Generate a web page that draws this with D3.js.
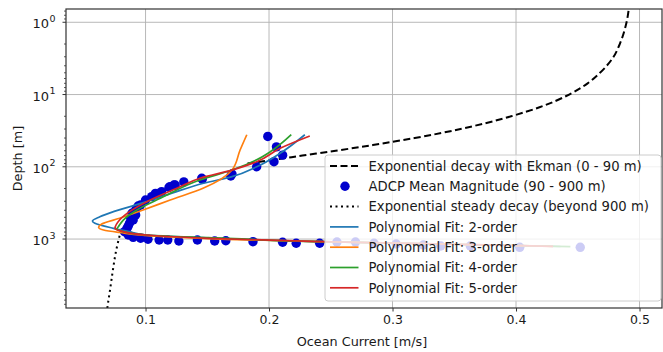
<!DOCTYPE html>
<html>
<head>
<meta charset="utf-8">
<script src="https://cdn.jsdelivr.net/npm/d3@7"></script>
<style>
  body { margin: 0; background: #fff; }
  svg { font-family: "DejaVu Sans", sans-serif; }
</style>
</head>
<body>
<script>
// Exponential decay with Ekman (0 - 90 m)
const ekmanDepth = [0.5, 1, 2, 3, 5, 7, 10, 15, 20, 25, 30, 40, 50, 60, 70, 80, 90]
const ekmanSpeed = [0.492, 0.4895, 0.484, 0.479, 0.468, 0.458, 0.443, 0.419, 0.396, 0.375, 0.355, 0.318, 0.284, 0.254, 0.227, 0.204, 0.182]

// ADCP mean magnitude
const adcpDepth = [38, 53, 69, 85, 100, 126, 134, 144, 148, 162, 179, 179, 189, 192, 221, 233, 238, 259, 288, 338, 349, 396, 440, 465, 516, 545, 605, 660, 710, 791, 879, 946, 976, 1008, 1031, 1031, 1064, 1031, 1064, 1054, 1088, 1109, 1145, 1145, 1099, 1099, 1145, 1171, 1209, 1248, 1248, 1301, 1301]
const adcpSpeed = [0.199, 0.206, 0.211, 0.204, 0.190, 0.170, 0.169, 0.1455, 0.146, 0.131, 0.123, 0.124, 0.120, 0.119, 0.113, 0.108, 0.110, 0.105, 0.100, 0.096, 0.094, 0.092, 0.089, 0.092, 0.088, 0.090, 0.087, 0.086, 0.085, 0.083, 0.086, 0.090, 0.096, 0.102, 0.111, 0.118, 0.127, 0.142, 0.156, 0.165, 0.187, 0.211, 0.222, 0.241, 0.255, 0.270, 0.285, 0.303, 0.325, 0.339, 0.363, 0.403, 0.452]

// Exponential steady decay (beyond 900 m)
const steadyDepth = [900, 1500, 2400, 5000, 8200, 9500]
const steadySpeed = [0.079, 0.076, 0.074, 0.0713, 0.0694, 0.0689]

// polynomial fits
const fit2Depth = [36, 65, 100, 137, 169, 230, 304, 418, 491, 562, 605, 710, 791, 879, 946, 1031, 1088, 1268]
const fit2Speed = [0.229, 0.209, 0.190, 0.170, 0.147, 0.122, 0.101, 0.074, 0.063, 0.057, 0.059, 0.074, 0.087, 0.101, 0.139, 0.193, 0.241, 0.436]
const fit3Depth = [36, 59, 111, 197, 288, 396, 516, 619, 686, 750, 811, 922, 1008, 1088, 1260]
const fit3Speed = [0.182, 0.1765, 0.170, 0.147, 0.120, 0.098, 0.079, 0.0645, 0.062, 0.066, 0.079, 0.112, 0.166, 0.241, 0.430]
const fit4Depth = [36, 62, 80, 111, 152, 273, 396, 546, 675, 726, 791, 879, 958, 1088, 1276]
const fit4Speed = [0.218, 0.201, 0.190, 0.170, 0.144, 0.112, 0.093, 0.082, 0.078, 0.0767, 0.082, 0.101, 0.151, 0.241, 0.444]
const fit5Depth = [37.5, 55.5, 85, 111, 144, 189, 304, 418, 546, 710, 791, 879, 977, 1088, 1260]
const fit5Speed = [0.233, 0.209, 0.190, 0.170, 0.144, 0.128, 0.101, 0.087, 0.079, 0.0753, 0.082, 0.101, 0.151, 0.241, 0.430]

const xTicks = [0.1, 0.2, 0.3, 0.4, 0.5]
const yTicks = [1, 10, 100, 1000]
const yTickExp = ['0', '1', '2', '3']
const legendLabels = [
  'Exponential decay with Ekman (0 - 90 m)',
  'ADCP Mean Magnitude (90 - 900 m)',
  'Exponential steady decay (beyond 900 m)',
  'Polynomial Fit: 2-order',
  'Polynomial Fit: 3-order',
  'Polynomial Fit: 4-order',
  'Polynomial Fit: 5-order'
]

const W = 663, H = 352
const plot = {left: 66, right: 662, top: 9, bottom: 308}
const ink = '#1a1a1a'

const svg = d3.select('body').append('svg')
  .attr('width', W)
  .attr('height', H)

const x = d3.scaleLinear().domain([0.0356, 0.5182]).range([plot.left, plot.right])
const y = d3.scaleLog().domain([0.655, 9000]).range([plot.top, plot.bottom])

svg.append('clipPath').attr('id', 'clip')
  .append('rect')
  .attr('x', plot.left).attr('y', plot.top)
  .attr('width', plot.right - plot.left).attr('height', plot.bottom - plot.top)

// grid
const grid = svg.append('g')
grid.selectAll('.vg').data(xTicks).join('line')
  .attr('x1', d => x(d)).attr('x2', d => x(d))
  .attr('y1', plot.top).attr('y2', plot.bottom)
  .attr('stroke', '#b0b0b0').attr('stroke-width', 0.9)
grid.selectAll('.hg').data(yTicks).join('line')
  .attr('x1', plot.left).attr('x2', plot.right)
  .attr('y1', d => y(d)).attr('y2', d => y(d))
  .attr('stroke', '#b0b0b0').attr('stroke-width', 0.9)

const g = svg.append('g').attr('clip-path', 'url(#clip)')

const line = (depths, speeds) => d3.line()
  .x(i => x(speeds[i]))
  .y(i => y(depths[i]))
  .curve(d3.curveMonotoneY)(d3.range(depths.length))

g.append('path')
  .attr('d', line(ekmanDepth, ekmanSpeed))
  .attr('fill', 'none').attr('stroke', '#000').attr('stroke-width', 2)
  .attr('stroke-dasharray', '7,3.5')

g.selectAll('.adcp').data(d3.range(adcpDepth.length)).join('circle')
  .attr('cx', i => x(adcpSpeed[i]))
  .attr('cy', i => y(adcpDepth[i]))
  .attr('r', 4.7)
  .attr('fill', '#0000cd')

g.append('path')
  .attr('d', line(steadyDepth, steadySpeed))
  .attr('fill', 'none').attr('stroke', '#000').attr('stroke-width', 2)
  .attr('stroke-dasharray', '2,3.5')

const fits = [
  [fit2Depth, fit2Speed, '#1f77b4'],
  [fit3Depth, fit3Speed, '#ff7f0e'],
  [fit4Depth, fit4Speed, '#2ca02c'],
  [fit5Depth, fit5Speed, '#d62728']
]
fits.forEach(([dd, ss, c]) => {
  g.append('path')
    .attr('d', line(dd, ss))
    .attr('fill', 'none').attr('stroke', c).attr('stroke-width', 1.7)
})

// frame
svg.append('rect')
  .attr('x', plot.left).attr('y', plot.top)
  .attr('width', plot.right - plot.left).attr('height', plot.bottom - plot.top)
  .attr('fill', 'none').attr('stroke', '#333').attr('stroke-width', 1.2)

// x axis
const xaxis = d3.axisBottom(x).tickValues(xTicks).tickFormat(d3.format('.1f'))
  .tickSizeInner(3.5).tickSizeOuter(0).tickPadding(4)
const gx = svg.append('g').attr('transform', `translate(0,${plot.bottom})`).call(xaxis)
gx.select('.domain').remove()
gx.selectAll('text').attr('font-size', 12.5).attr('fill', ink)
  .attr('font-family', '"DejaVu Sans", sans-serif')
gx.selectAll('line').attr('stroke', '#333')

// y axis ticks (major + minor)
const minor = []
for (let e = -1; e <= 3; e++) for (let k = 2; k <= 9; k++) {
  const v = k * Math.pow(10, e)
  if (v > 0.655 && v < 9000) minor.push(v)
}
svg.selectAll('.ymin').data(minor).join('line')
  .attr('x1', plot.left - 2).attr('x2', plot.left)
  .attr('y1', d => y(d)).attr('y2', d => y(d))
  .attr('stroke', '#333').attr('stroke-width', 0.8)
svg.selectAll('.ymaj').data(yTicks).join('line')
  .attr('x1', plot.left - 3.5).attr('x2', plot.left)
  .attr('y1', d => y(d)).attr('y2', d => y(d))
  .attr('stroke', '#333').attr('stroke-width', 1)
svg.selectAll('.ylab').data(yTicks).join('text')
  .attr('x', plot.left - 17).attr('y', d => y(d) + 6)
  .attr('text-anchor', 'end')
  .attr('font-size', 13).attr('fill', ink)
  .text('10')
svg.selectAll('.yexp').data(yTicks).join('text')
  .attr('x', plot.left - 16.5).attr('y', d => y(d) - 0.5)
  .attr('font-size', 9.5).attr('fill', ink)
  .text((d, i) => yTickExp[i])

// axis titles
svg.append('text')
  .attr('x', (plot.left + plot.right) / 2 - 2).attr('y', 346)
  .attr('text-anchor', 'middle').attr('font-size', 12.8).attr('fill', ink)
  .text('Ocean Current [m/s]')
svg.append('text')
  .attr('transform', `translate(22,${(plot.top + plot.bottom) / 2}) rotate(-90)`)
  .attr('text-anchor', 'middle').attr('font-size', 12.8).attr('fill', ink)
  .text('Depth [m]')

// legend
const lg = svg.append('g')
lg.append('rect')
  .attr('x', 325).attr('y', 155).attr('width', 336).attr('height', 146)
  .attr('rx', 3)
  .attr('fill', '#fff').attr('fill-opacity', 0.8)
  .attr('stroke', '#cccccc').attr('stroke-width', 1)
const rowY = i => 166 + i * 20.3
const handles = [
  {type: 'line', stroke: '#000', dash: '7,3.5', w: 2},
  {type: 'dot'},
  {type: 'line', stroke: '#000', dash: '2,3.5', w: 2},
  {type: 'line', stroke: '#1f77b4', w: 1.7},
  {type: 'line', stroke: '#ff7f0e', w: 1.7},
  {type: 'line', stroke: '#2ca02c', w: 1.7},
  {type: 'line', stroke: '#d62728', w: 1.7}
]
handles.forEach((h, i) => {
  if (h.type === 'dot') {
    lg.append('circle').attr('cx', 345).attr('cy', rowY(i)).attr('r', 4.7).attr('fill', '#0000cd')
  } else {
    lg.append('line')
      .attr('x1', 330).attr('x2', 358.5)
      .attr('y1', rowY(i)).attr('y2', rowY(i))
      .attr('stroke', h.stroke).attr('stroke-width', h.w)
      .attr('stroke-dasharray', h.dash || null)
  }
})
lg.selectAll('.lt').data(legendLabels).join('text')
  .attr('x', 368.5).attr('y', (d, i) => rowY(i) + 4.8)
  .attr('font-size', 13.2).attr('fill', ink)
  .text(d => d)
</script>
</body>
</html>
